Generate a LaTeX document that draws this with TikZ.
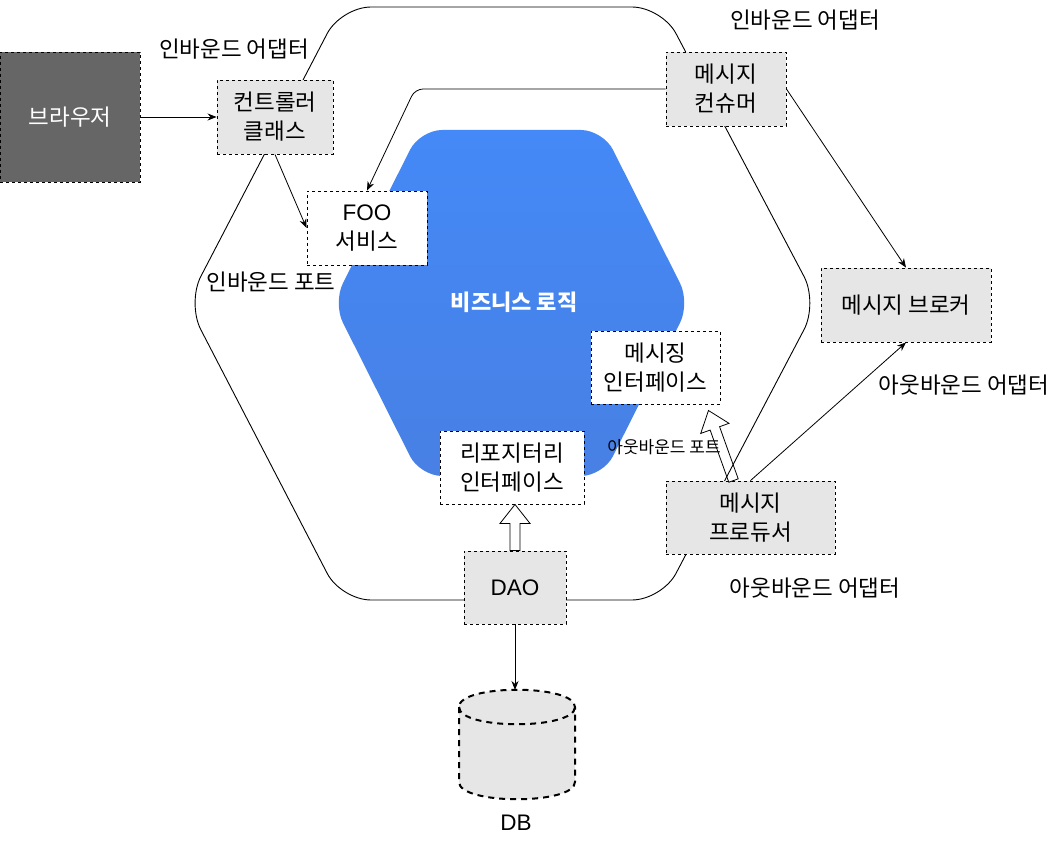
\documentclass[tikz,border=0pt]{standalone}
\usepackage{fontspec}
\setmainfont{Noto Sans CJK KR}
\newfontfamily\latinfont{Liberation Sans}
\usetikzlibrary{arrows.meta,calc}

\definecolor{boxgray}{HTML}{E6E6E6}
\definecolor{darkbox}{HTML}{666666}
\definecolor{hextop}{RGB}{68,137,247}
\definecolor{hexbottom}{RGB}{72,128,228}

\def\outerhex{[rounded corners=30pt] (500,7) -- (662,7) -- (818,303) -- (662,600) -- (341,600) -- (187,303) -- (341,7) -- cycle}
\def\innerhex{[rounded corners=22pt] (511,130) -- (603,130) -- (690,303) -- (603,476) -- (420,476) -- (333,303) -- (420,130) -- cycle}

% hollow block arrow from #1 to #2
\newcommand\hollowarrow[2]{%
  \draw[line width=0.8pt] let \p1=(#1), \p2=(#2),
    \n1={atan2(\y2-\y1,\x2-\x1)}, \n2={veclen(\x2-\x1,\y2-\y1)} in
    [shift={(\p1)}, rotate=\n1]
    (0,-5) -- (\n2-19,-5) -- (\n2-19,-15) -- (\n2,0) -- (\n2-19,15) -- (\n2-19,5) -- (0,5) -- cycle;}

\tikzset{
  dashbox/.style={draw, dash pattern=on 3pt off 3pt, line width=0.9pt, align=center, inner sep=0pt},
  graybox/.style={dashbox, fill=boxgray},
  whitebox/.style={dashbox, fill=white},
  flow/.style={-{Stealth[length=9pt,width=7pt]}, line width=0.8pt},
}

\begin{document}
\begin{tikzpicture}[x=1pt, y=-1pt, font=\fontsize{22.5}{29}\selectfont]
  \useasboundingbox (0,0) rectangle (1061,842);

  \draw[line width=0.9pt] \outerhex;
  \shade[top color=hextop, bottom color=hexbottom] \innerhex;
  \node[text=white, font=\fontsize{22}{28}\selectfont\bfseries] (core) at (514,302) {비즈니스 로직};

  % boxes
  \node[dashbox, fill=darkbox, text=white, minimum width=140pt, minimum height=130pt] (browser) at (70,117) {브라우저};
  \node[graybox, minimum width=116pt, minimum height=74pt] (ctrl) at (275,117) {컨트롤러\\클래스};
  \node[whitebox, minimum width=120pt, minimum height=74pt] (foo) at (367,228) {{\latinfont FOO}\\서비스};
  \node[graybox, minimum width=120pt, minimum height=74pt] (consumer) at (726,89) {메시지\\컨슈머};
  \node[graybox, minimum width=170pt, minimum height=74pt] (broker) at (906,305) {메시지 브로커};
  \node[whitebox, minimum width=129pt, minimum height=73pt] (msgif) at (655.5,367.5) {메시징\\인터페이스};
  \node[whitebox, minimum width=144pt, minimum height=73pt] (repo) at (512,467.5) {리포지터리\\인터페이스};
  \node[graybox, minimum width=169pt, minimum height=73pt] (prod) at (750.5,517.5) {메시지\\프로듀서};
  \node[graybox, minimum width=102pt, minimum height=73pt, font=\fontsize{22.5}{29}\latinfont] (dao) at (515,587.5) {DAO};

  % DB
  \coordinate (dbtop) at (517,690);
  \filldraw[fill=boxgray, line width=2pt, dash pattern=on 6pt off 5pt]
    (459,707) -- (459,782) .. controls (459,805) and (575,805) .. (575,782)
    -- (575,707) .. controls (575,684) and (459,684) .. (459,707) -- cycle;
  \draw[line width=2pt, dash pattern=on 6pt off 5pt] (459,707) .. controls (459,730) and (575,730) .. (575,707);
  \node[font=\fontsize{22.5}{29}\latinfont] (db) at (516,823) {DB};

  % labels
  \node (inadaptL) at (234,49) {인바운드 어댑터};
  \node (inadaptR) at (805,20) {인바운드 어댑터};
  \node (inport) at (271,282) {인바운드 포트};
  \node (outadaptR) at (964,385) {아웃바운드 어댑터};
  \node (outadaptB) at (815,588) {아웃바운드 어댑터};
  \node[font=\fontsize{17}{20}\selectfont] (outport) at (664,447) {아웃바운드 포트};

  % connectors
  \coordinate (bend) at (415,89);
  \draw[flow] (browser) -- (ctrl);
  \draw[flow] (ctrl.south) -- (foo.west);
  \draw[flow, rounded corners=8pt] (consumer.west) -- (bend) -- (foo.north);
  \draw[flow] (consumer.east) -- (broker.north);
  \draw[flow] (prod.north) -- (broker.south);
  \draw[flow] (dao.south) -- (dao.south |- dbtop);

  \coordinate (prodtail) at ($(prod.north west)!0.4!(prod.north east)$);
  \coordinate (msgtip) at ($(msgif.south east)+(-12,6)$);
  \hollowarrow{prodtail}{msgtip}
  \coordinate (daotail) at (dao.north);
  \coordinate (repotip) at (dao.north |- repo.south);
  \hollowarrow{daotail}{repotip}
\end{tikzpicture}
\end{document}
